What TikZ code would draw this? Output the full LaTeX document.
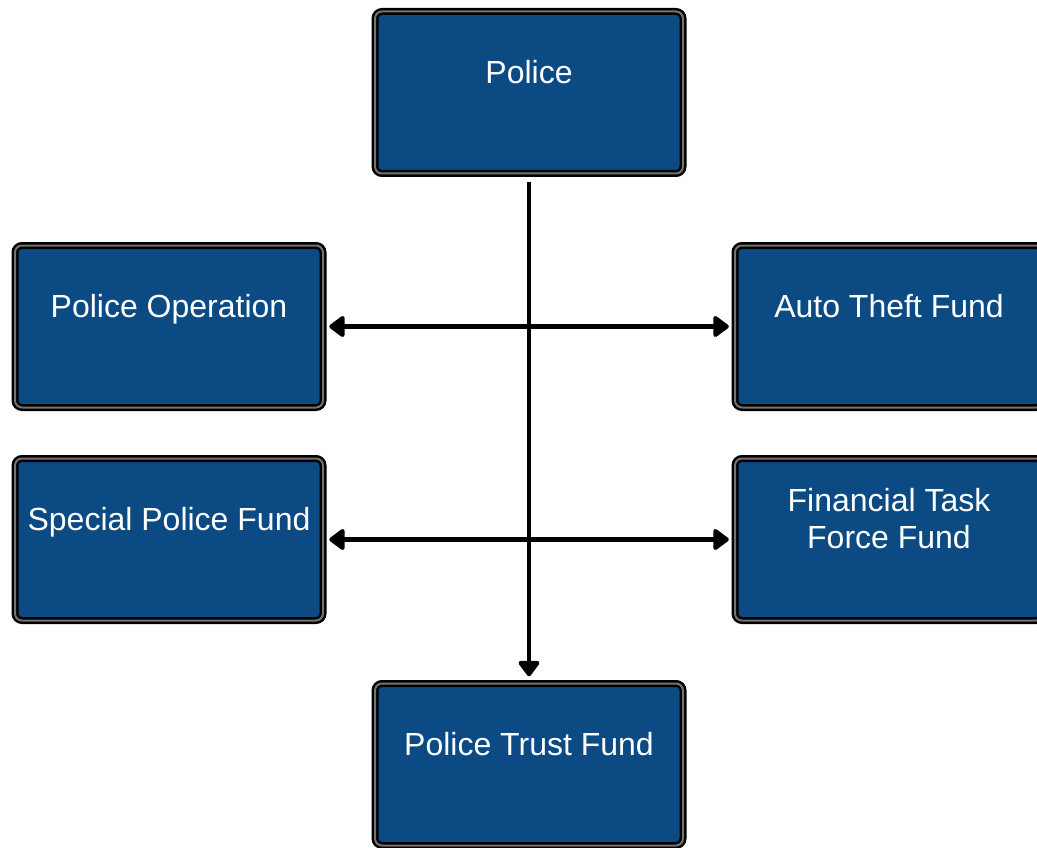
\documentclass[tikz,border=0pt]{standalone}
\usepackage{fontspec}
\setmainfont{Liberation Sans}
\usepackage{tikz}
\usetikzlibrary{arrows.meta, positioning}
\definecolor{fundblue}{RGB}{12,74,132}
\definecolor{fundrim}{RGB}{115,115,115}
\tikzset{
    fundbox/.style={rectangle, rounded corners=7pt, minimum width=308pt, minimum height=162pt, fill=fundblue, draw=black, line width=2.5pt, double=fundrim, double distance=2pt},
    fundlabel/.style={text=white, align=center, font=\fontsize{32}{37}\selectfont, text height=23pt, text depth=7pt, yshift=17pt},
    fundlabeltwo/.style={fundlabel, text height={}, text depth={}, yshift=3.5pt},
    flow/.style={-{Triangle[length=17pt, width=24pt, round]}, line width=4.5pt, black},
    twoway/.style={{Triangle[length=17pt, width=24pt, round]}-{Triangle[length=17pt, width=24pt, round]}, line width=4.5pt, black},
}

\begin{document}
\begin{tikzpicture}[x=1pt, y=-1pt]
\useasboundingbox (0,0) rectangle (1037,848);

% Top box
\node[fundbox, label={[fundlabel]center:Police}] (police) at (529,92.5) {};

% Left boxes
\node[fundbox, label={[fundlabel]center:Police Operation}] (operation) at (169,326.5) {};
\node[fundbox, label={[fundlabel]center:Special Police Fund}] (special) at (169,539.5) {};

% Right boxes
\node[fundbox, label={[fundlabel]center:Auto Theft Fund}] (autotheft) at (889,326.5) {};
\node[fundbox, label={[fundlabeltwo]center:{Financial Task\\Force Fund}}] (taskforce) at (889,539.5) {};

% Bottom box
\node[fundbox, label={[fundlabel]center:Police Trust Fund}] (trust) at (529,764.5) {};

% Arrows
\draw[flow, shorten <=7pt, shorten >=6pt] (police.south) -- (trust.north);
\draw[twoway, shorten <=5pt, shorten >=5pt] (operation.east) -- (autotheft.west);
\draw[twoway, shorten <=5pt, shorten >=5pt] (special.east) -- (taskforce.west);

\end{tikzpicture}
\end{document}
